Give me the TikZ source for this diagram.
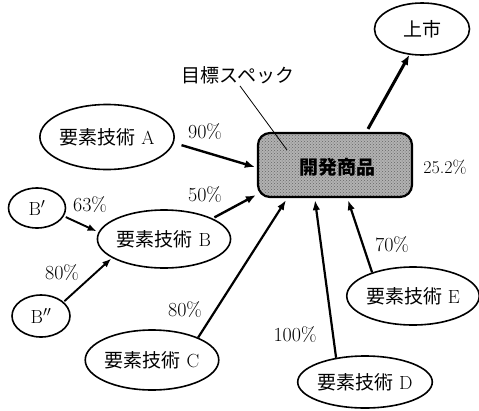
\documentclass[tikz,border=0pt]{standalone}
\usepackage{fontspec}
\newfontfamily\jp{Noto Sans CJK JP}
\usetikzlibrary{arrows.meta,shapes.geometric,patterns}
\begin{document}
\begin{tikzpicture}[x=1pt,y=-1pt,
  every node/.style={font=\fontsize{19}{22}\selectfont},
  elli/.style={draw,ellipse,line width=1.6pt,inner sep=0pt},
  pct/.style={inner sep=0pt,font=\fontsize{20}{22}\selectfont},
  arr/.style={line width=2.4pt,-{Latex[length=10pt,width=8pt]}},
  arrthin/.style={line width=1.9pt,-{Latex[length=9pt,width=7pt]}},
  arrmid/.style={line width=2.2pt,-{Latex[length=10pt,width=7.5pt]}},
  prod/.style={draw,line width=2.2pt,rounded corners=12pt,minimum width=154pt,minimum height=64pt,
    preaction={fill=black!30},pattern={crosshatch dots},pattern color=black!60}]
\useasboundingbox (0,0) rectangle (479,410);
\node[elli,minimum width=95pt,minimum height=52pt] (up) at (422,29) {\jp 上市};
\node[prod] (box) at (335,165) {};
\node[inner sep=0pt] (boxtxt) at (337,167) {\jp\bfseries 開発商品};
\node[inner sep=1pt] (spec) at (238,75) {\jp 目標スペック};
\coordinate (lead) at (287,150);
\draw[line width=0.8pt] (spec.south) ++(2pt,-1pt) coordinate (specfoot) -- (lead);
\node[pct,font=\fontsize{18}{20}\selectfont] (p252) at (445,167) {25.2\%};

\node[elli,minimum width=129pt,minimum height=65pt] (a) at (107,137) {{\jp 要素技術} A};
\node[elli,minimum width=57pt,minimum height=40pt] (bp) at (37,208) {B$'$};
\node[elli,minimum width=128pt,minimum height=58pt] (b) at (164,239) {{\jp 要素技術} B};
\node[elli,minimum width=58pt,minimum height=42pt] (bpp) at (41,316) {B$''$};
\node[elli,minimum width=127pt,minimum height=60pt] (c) at (152,360) {{\jp 要素技術} C};
\node[elli,minimum width=126pt,minimum height=52pt] (d) at (365,382) {{\jp 要素技術} D};
\node[elli,minimum width=125pt,minimum height=58pt] (e) at (413,296) {{\jp 要素技術} E};

\node[pct] (p90) at (205,132) {90\%};
\node[pct] (p63) at (90,205) {63\%};
\node[pct] (p50) at (205,195) {50\%};
\node[pct] (p80b) at (62,273) {80\%};
\node[pct] (p80c) at (185,310) {80\%};
\node[pct] (p100) at (295,335) {100\%};
\node[pct] (p70) at (392,245) {70\%};

\draw[arr,line width=3pt] ([xshift=33pt,yshift=3pt]box.north) -- (up.244);
\draw[arr,shorten <=8pt] (a.-5) -- ([xshift=-2pt,yshift=-2pt]box.west);
\draw[arrthin,shorten <=2pt,shorten >=2pt] (bp.-17) -- (b.174);
\draw[arrthin,shorten <=1pt,shorten >=1pt] (bpp.32) -- (b.200);
\draw[arr,shorten <=2pt] (b.23) -- ([xshift=-1pt,yshift=3pt]box.south west);
\draw[arrmid] (c.26) -- ([xshift=-49pt,yshift=-2pt]box.south);
\draw[arrmid] (d.140) -- ([xshift=-20pt,yshift=-2pt]box.south);
\draw[arrmid] (e.150) -- ([xshift=13pt,yshift=-2pt]box.south);
\end{tikzpicture}
\end{document}
